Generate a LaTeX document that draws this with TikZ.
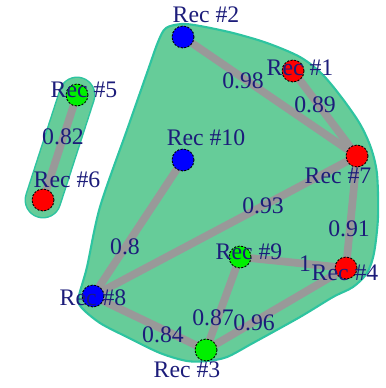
\documentclass[tikz,border=0pt]{standalone}
\usepackage{fontspec}
\setmainfont{Liberation Serif}
\definecolor{Chullgreen}{HTML}{66CC99}
\definecolor{Chullteal}{HTML}{2EC4A0}
\definecolor{Clinkgray}{HTML}{999999}
\definecolor{Clabnavy}{HTML}{1C1C7A}
\definecolor{Crecred}{HTML}{FF0000}
\definecolor{Crecblue}{HTML}{0000FF}
\definecolor{Crecgreen}{HTML}{00F000}
\pgfdeclarelayer{hulls}
\pgfdeclarelayer{links}
\pgfsetlayers{hulls,links,main}
\tikzset{
	rec/.style={circle,draw=black,line width=0.5pt,dash pattern=on 1.2pt off 0.8pt,
		minimum size=0.44cm,inner sep=0pt},
	recred/.style={rec,fill=Crecred},
	recblue/.style={rec,fill=Crecblue},
	recgreen/.style={rec,fill=Crecgreen},
	link/.style={Clinkgray,line width=4.4pt},
	reclab/.style={text=Clabnavy,font=\fontsize{13.5}{14}\selectfont,inner sep=0pt},
}
\begin{document}
\begin{tikzpicture}[x=0.02cm,y=-0.02cm]
		\useasboundingbox (0,0) rectangle (385,388);
		% records
		\node[recred] (n1) at (293,71) {};
		\node[recblue] (n2) at (183,37) {};
		\node[recgreen] (n3) at (206,350) {};
		\node[recred] (n4) at (346,268) {};
		\node[recgreen] (n5) at (77,95) {};
		\node[recred] (n6) at (43,200) {};
		\node[recred] (n7) at (357,156) {};
		\node[recblue] (n8) at (93,296) {};
		\node[recgreen] (n9) at (240,257) {};
		\node[recblue] (n10) at (183,160) {};
		% group hulls
		\begin{pgfonlayer}{hulls}
		\draw[Chullteal,line width=1.2pt,fill=Chullgreen]
		plot[smooth cycle,tension=0.5] coordinates {(166,28) (182,24) (200,26) (233,33) (267,43) (300,57)
			(322,74) (342,98) (360,124) (371,148) (377,174) (378,217) (374,253) (367,273)
			(353,287) (333,297) (300,317) (253,343) (227,357) (207,361) (187,361) (160,353)
			(127,337) (100,323) (81,307) (79,296) (87,267) (100,207) (127,130) (147,73) (158,42)};
		\draw[Chullteal,line width=0.74cm,line cap=round] (n5.center) -- (n6.center);
		\draw[Chullgreen,line width=0.68cm,line cap=round] (n5.center) -- (n6.center);
		\end{pgfonlayer}
		% links
		\begin{pgfonlayer}{links}
		\foreach \a/\b in {n2/n7,n1/n7,n5/n6,n10/n8,n7/n8,n7/n4,n9/n4,n9/n3,n4/n3,n8/n3}
			\draw[link] (\a.center) -- (\b.center);
		\end{pgfonlayer}
		% weights
		\node[reclab] (w27) at (243,81) {0.98};
		\node[reclab] (w17) at (315,105) {0.89};
		\node[reclab] (w56) at (63,137) {0.82};
		\node[reclab] (w108) at (125,247) {0.8};
		\node[reclab] (w78) at (263,206) {0.93};
		\node[reclab] (w74) at (349,229) {0.91};
		\node[reclab] (w94) at (305,264) {1};
		\node[reclab] (w93) at (213,318) {0.87};
		\node[reclab] (w43) at (254,323) {0.96};
		\node[reclab] (w83) at (163,335) {0.84};
		% names
		\node[reclab] (l1) at (300,68) {Rec \#1};
		\node[reclab] (l2) at (206,15) {Rec \#2};
		\node[reclab] (l3) at (187,370) {Rec \#3};
		\node[reclab] (l4) at (345,273) {Rec \#4};
		\node[reclab] (l5) at (84,90) {Rec \#5};
		\node[reclab] (l6) at (67,180) {Rec \#6};
		\node[reclab] (l7) at (338,176) {Rec \#7};
		\node[reclab] (l8) at (93,298) {Rec \#8};
		\node[reclab] (l9) at (249,252) {Rec \#9};
		\node[reclab] (l10) at (206,138) {Rec \#10};
	\end{tikzpicture}
\end{document}
